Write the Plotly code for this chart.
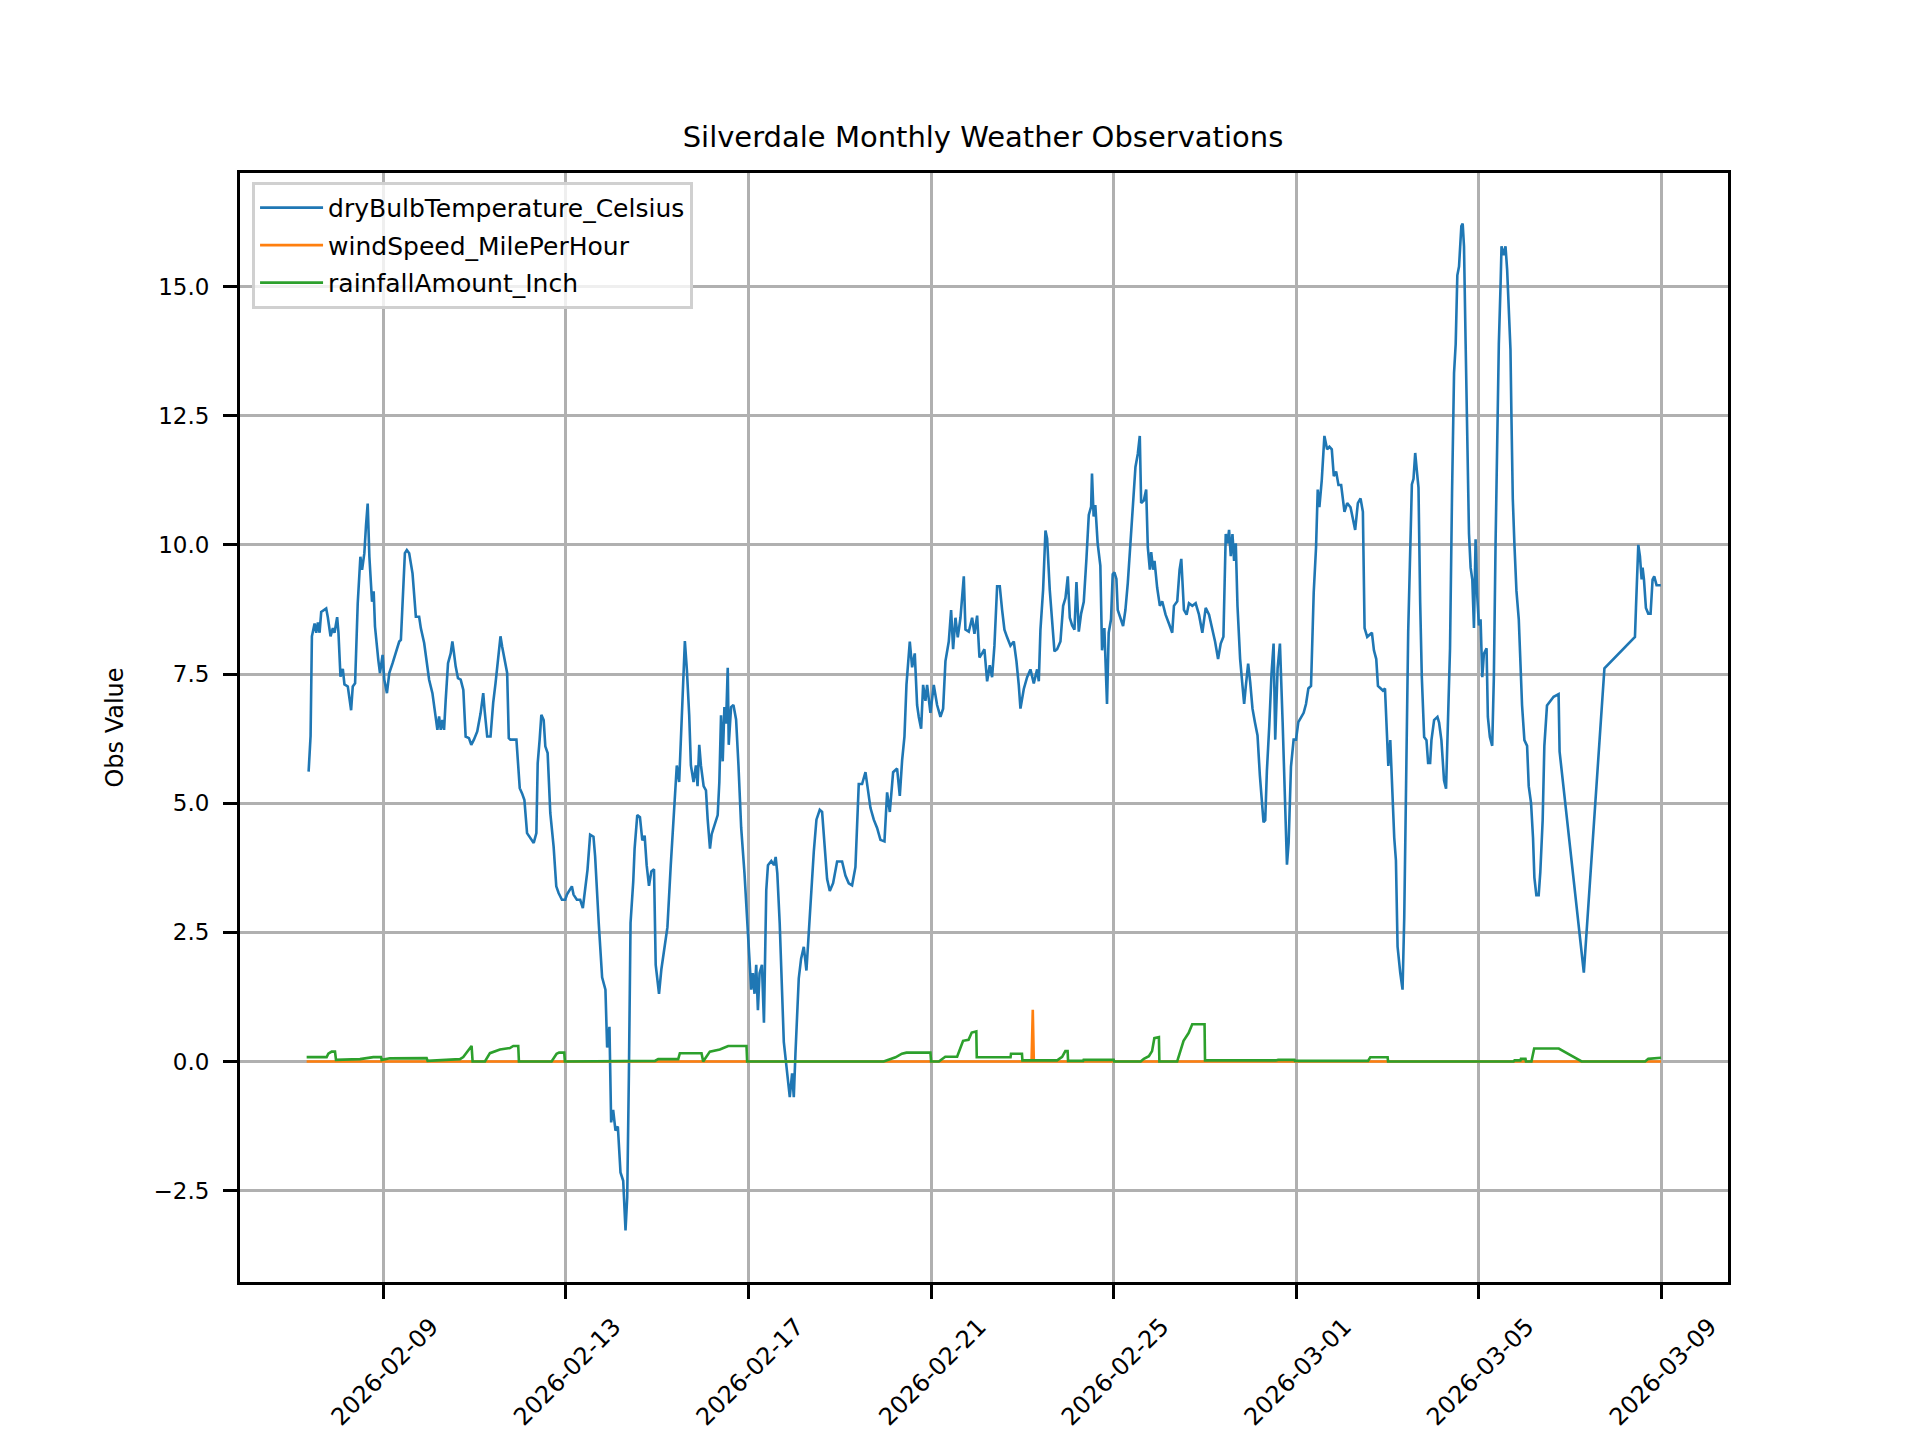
import pandas as pd
import plotly.graph_objects as go

# observation times are given as days after 2026-02-09 00:00
base_date = "2026-02-09"

temp_days = [
    -1.636, -1.593, -1.564, -1.505, -1.469, -1.433, -1.396, -1.36, -1.251, -1.215,
    -1.156, -1.105, -1.069, -1.011, -0.982, -0.938, -0.887, -0.851, -0.778, -0.705,
    -0.669, -0.618, -0.56, -0.502, -0.465, -0.415, -0.378, -0.342, -0.305, -0.269,
    -0.247, -0.211, -0.182, -0.109, -0.073, -0.015, 0.022, 0.08, 0.131, 0.204,
    0.276, 0.349, 0.385, 0.422, 0.473, 0.516, 0.567, 0.64, 0.713, 0.785,
    0.822, 0.895, 0.953, 1.004, 1.076, 1.127, 1.185, 1.222, 1.258, 1.295,
    1.331, 1.367, 1.418, 1.476, 1.513, 1.549, 1.585, 1.636, 1.695, 1.753,
    1.804, 1.876, 1.927, 1.985, 2.058, 2.131, 2.189, 2.218, 2.276, 2.349,
    2.407, 2.458, 2.509, 2.567, 2.604, 2.655, 2.713, 2.749, 2.785, 2.916,
    2.989, 3.04, 3.091, 3.149, 3.222, 3.295, 3.353, 3.382, 3.425, 3.462,
    3.513, 3.549, 3.6, 3.658, 3.731, 3.789, 3.84, 3.913, 3.985, 4.022,
    4.131, 4.167, 4.24, 4.313, 4.371, 4.422, 4.473, 4.531, 4.604, 4.64,
    4.676, 4.719, 4.793, 4.866, 4.903, 4.954, 4.991, 5.035, 5.086, 5.138,
    5.196, 5.255, 5.306, 5.343, 5.379, 5.416, 5.475, 5.505, 5.563, 5.622,
    5.674, 5.725, 5.769, 5.82, 5.872, 5.93, 5.967, 6.04, 6.092, 6.15,
    6.224, 6.297, 6.371, 6.429, 6.481, 6.554, 6.606, 6.65, 6.701, 6.738,
    6.796, 6.848, 6.884, 6.921, 6.958, 7.017, 7.068, 7.105, 7.156, 7.193,
    7.251, 7.325, 7.361, 7.398, 7.435, 7.472, 7.508, 7.545, 7.567, 7.618,
    7.67, 7.728, 7.78, 7.839, 7.912, 7.971, 8.022, 8.059, 8.095, 8.132,
    8.169, 8.206, 8.242, 8.294, 8.338, 8.389, 8.426, 8.499, 8.558, 8.595,
    8.631, 8.683, 8.773, 8.846, 8.904, 8.955, 8.992, 9.028, 9.065, 9.101,
    9.152, 9.211, 9.269, 9.32, 9.371, 9.43, 9.488, 9.561, 9.612, 9.663,
    9.722, 9.78, 9.853, 9.941, 10.05, 10.123, 10.196, 10.269, 10.342, 10.415,
    10.488, 10.562, 10.613, 10.671, 10.744, 10.817, 10.89, 10.978, 11.036, 11.095,
    11.168, 11.255, 11.314, 11.365, 11.416, 11.46, 11.533, 11.584, 11.642, 11.693,
    11.73, 11.781, 11.825, 11.876, 11.912, 11.985, 12.058, 12.131, 12.204, 12.263,
    12.314, 12.387, 12.438, 12.482, 12.533, 12.584, 12.643, 12.716, 12.752, 12.825,
    12.898, 12.949, 13.008, 13.059, 13.117, 13.168, 13.227, 13.285, 13.336, 13.387,
    13.446, 13.504, 13.555, 13.606, 13.665, 13.738, 13.811, 13.869, 13.92, 13.957,
    14.03, 14.103, 14.176, 14.249, 14.322, 14.359, 14.395, 14.453, 14.505, 14.541,
    14.599, 14.651, 14.702, 14.76, 14.833, 14.892, 14.943, 14.994, 15.038, 15.089,
    15.14, 15.184, 15.235, 15.286, 15.344, 15.403, 15.454, 15.505, 15.524, 15.56,
    15.597, 15.648, 15.707, 15.744, 15.795, 15.853, 15.89, 15.941, 15.978, 16.015,
    16.059, 16.088, 16.147, 16.205, 16.256, 16.308, 16.366, 16.425, 16.476, 16.527,
    16.571, 16.601, 16.659, 16.711, 16.747, 16.791, 16.821, 16.864, 16.894, 16.952,
    17.011, 17.062, 17.136, 17.209, 17.282, 17.319, 17.392, 17.443, 17.48, 17.538,
    17.597, 17.648, 17.722, 17.795, 17.868, 17.941, 18.015, 18.088, 18.161, 18.22,
    18.286, 18.344, 18.403, 18.454, 18.491, 18.527, 18.564, 18.601, 18.637, 18.674,
    18.711, 18.769, 18.821, 18.857, 18.894, 18.945, 18.989, 19.04, 19.092, 19.15,
    19.201, 19.238, 19.282, 19.319, 19.355, 19.407, 19.458, 19.502, 19.538, 19.59,
    19.641, 19.7, 19.751, 19.795, 19.832, 19.883, 19.941, 19.993, 20.044, 20.103,
    20.161, 20.212, 20.264, 20.322, 20.381, 20.432, 20.469, 20.505, 20.557, 20.615,
    20.674, 20.725, 20.777, 20.821, 20.872, 20.923, 20.982, 21.055, 21.114, 21.187,
    21.238, 21.289, 21.348, 21.407, 21.458, 21.495, 21.553, 21.604, 21.656, 21.7,
    21.751, 21.788, 21.846, 21.897, 21.942, 21.985, 22.015, 22.058, 22.109, 22.145,
    22.182, 22.218, 22.276, 22.327, 22.364, 22.4, 22.451, 22.495, 22.531, 22.567,
    22.604, 22.64, 22.676, 22.713, 22.749, 22.8, 22.851, 22.887, 22.931, 22.96,
    23.018, 23.091, 23.127, 23.178, 23.236, 23.28, 23.324, 23.367, 23.411, 23.455,
    23.491, 23.527, 23.564, 23.585, 23.615, 23.644, 23.673, 23.709, 23.745, 23.782,
    23.818, 23.855, 23.891, 23.927, 23.964, 24.0, 24.036, 24.073, 24.109, 24.167,
    24.196, 24.24, 24.291, 24.327, 24.364, 24.4, 24.436, 24.473, 24.495, 24.545,
    24.582, 24.618, 24.655, 24.691, 24.713, 24.742, 24.778, 24.822, 24.873, 24.909,
    24.945, 24.996, 25.055, 25.091, 25.142, 25.185, 25.215, 25.258, 25.309, 25.345,
    25.396, 25.433, 25.491, 25.636, 25.745, 25.767, 26.298, 26.749, 27.418, 27.44,
    27.469, 27.491, 27.527, 27.564, 27.585, 27.615, 27.658, 27.709, 27.76, 27.804,
    27.84, 27.891, 27.985,
]
temp_c = [
    5.61, 6.3, 8.23, 8.48, 8.3, 8.5, 8.3, 8.7, 8.77, 8.6,
    8.23, 8.39, 8.3, 8.6, 8.3, 7.45, 7.6, 7.3, 7.26, 6.8,
    7.26, 7.32, 8.87, 9.77, 9.52, 9.84, 10.39, 10.8, 9.77, 9.19,
    8.9, 9.1, 8.42, 7.77, 7.52, 7.87, 7.39, 7.13, 7.52, 7.71,
    7.9, 8.13, 8.16, 8.94, 9.84, 9.9, 9.84, 9.45, 8.61, 8.61,
    8.39, 8.1, 7.77, 7.39, 7.13, 6.74, 6.42, 6.68, 6.42, 6.61,
    6.42, 7.0, 7.71, 7.9, 8.13, 7.9, 7.65, 7.42, 7.39, 7.19,
    6.29, 6.26, 6.13, 6.23, 6.39, 6.74, 7.13, 6.81, 6.29, 6.29,
    6.94, 7.32, 7.77, 8.23, 8.03, 7.77, 7.52, 6.26, 6.23, 6.23,
    5.29, 5.19, 5.06, 4.42, 4.32, 4.23, 4.42, 5.77, 6.23, 6.71,
    6.61, 6.1, 5.97, 4.81, 4.16, 3.39, 3.26, 3.13, 3.13, 3.23,
    3.39, 3.23, 3.13, 3.13, 2.97, 3.39, 3.71, 4.39, 4.35, 3.97,
    3.26, 2.68, 1.63, 1.39, 0.27, 0.67, -1.18, -0.94, -1.34, -1.26,
    -2.15, -2.31, -3.27, -2.63, -0.3, 2.68, 3.48, 4.12, 4.77, 4.73,
    4.28, 4.37, 3.8, 3.4, 3.68, 3.72, 1.87, 1.31, 1.79, 2.19,
    2.6, 3.8, 4.85, 5.73, 5.41, 6.94, 8.14, 7.58, 6.7, 5.73,
    5.41, 5.73, 5.33, 6.13, 5.73, 5.33, 5.25, 4.69, 4.12, 4.4,
    4.57, 4.77, 5.41, 6.7, 5.81, 6.86, 6.54, 7.62, 6.13, 6.86,
    6.9, 6.62, 5.73, 4.53, 3.64, 2.76, 2.11, 1.39, 1.71, 1.31,
    1.87, 0.99, 1.71, 1.87, 0.75, 3.32, 3.8, 3.88, 3.8, 3.96,
    3.64, 2.68, 0.38, -0.23, -0.69, -0.23, -0.69, 0.15, 0.84, 1.61,
    1.99, 2.22, 1.76, 2.53, 3.22, 4.06, 4.68, 4.87, 4.83, 4.22,
    3.53, 3.3, 3.45, 3.87, 3.87, 3.6, 3.45, 3.41, 3.76, 5.37,
    5.37, 5.6, 5.29, 4.91, 4.68, 4.52, 4.29, 4.26, 5.21, 4.83,
    5.6, 5.67, 5.14, 5.83, 6.29, 7.29, 8.13, 7.63, 7.9, 6.9,
    6.67, 6.44, 7.29, 6.98, 7.29, 6.75, 7.29, 6.9, 6.67, 6.83,
    7.75, 8.13, 8.74, 7.98, 8.59, 8.21, 8.59, 9.39, 8.36, 8.32,
    8.59, 8.28, 8.63, 7.82, 7.9, 7.98, 7.36, 7.67, 7.44, 8.05,
    9.2, 9.2, 8.74, 8.36, 8.21, 8.05, 8.13, 7.75, 7.29, 6.83,
    7.21, 7.44, 7.59, 7.32, 7.59, 7.36, 8.36, 9.13, 10.28, 10.12,
    9.13, 8.51, 7.94, 7.98, 8.13, 8.82, 8.97, 9.39, 8.59, 8.44,
    8.36, 9.28, 8.32, 8.67, 8.9, 9.74, 10.58, 10.74, 11.38, 10.55,
    10.77, 10.03, 9.6, 7.96, 8.39, 6.92, 8.3, 8.56, 9.43, 9.47,
    9.34, 8.74, 8.56, 8.43, 8.74, 9.26, 10.03, 10.73, 11.51, 11.76,
    12.11, 10.81, 10.86, 11.07, 9.95, 9.52, 9.86, 9.52, 9.69, 9.17,
    8.82, 8.91, 8.65, 8.48, 8.3, 8.82, 8.91, 9.52, 9.73, 8.74,
    8.65, 8.87, 8.82, 8.87, 8.65, 8.3, 8.78, 8.65, 8.39, 8.13,
    7.79, 8.09, 8.22, 10.21, 10.03, 10.29, 9.78, 10.21, 9.69, 10.03,
    8.82, 7.79, 7.27, 6.92, 7.27, 7.7, 7.35, 6.83, 6.57, 6.31,
    5.54, 5.02, 4.63, 4.67, 5.62, 6.49, 7.53, 8.09, 6.23, 7.61,
    8.09, 6.57, 5.19, 3.81, 4.24, 5.71, 6.23, 6.23, 6.57, 6.66,
    6.75, 6.92, 7.22, 7.27, 9.08, 9.95, 11.07, 10.73, 11.25, 12.11,
    11.85, 11.9, 11.85, 11.33, 11.42, 11.16, 11.16, 10.64, 10.81, 10.73,
    10.47, 10.29, 10.81, 10.9, 10.64, 8.39, 8.22, 8.26, 8.3, 7.96,
    7.79, 7.27, 7.22, 7.18, 7.22, 6.22, 5.72, 6.22, 4.89, 4.33,
    3.89, 2.22, 1.72, 1.39, 2.78, 5.56, 8.33, 9.89, 11.17, 11.28,
    11.78, 11.44, 11.11, 8.89, 7.44, 6.28, 6.22, 5.78, 5.78, 6.22,
    6.61, 6.67, 6.56, 6.22, 5.44, 5.28, 6.67, 8.0, 11.0, 13.33,
    13.89, 15.22, 15.39, 15.78, 16.17, 16.22, 15.78, 13.89, 11.67, 10.22,
    9.56, 9.33, 8.39, 10.11, 9.0, 8.44, 8.56, 7.44, 7.89, 8.0,
    6.67, 6.28, 6.11, 7.44, 10.0, 12.22, 13.89, 15.0, 15.78, 15.61,
    15.78, 15.33, 14.44, 13.78, 12.44, 10.89, 10.0, 9.11, 8.56, 7.78,
    6.89, 6.22, 6.11, 5.33, 5.0, 4.33, 3.56, 3.22, 3.22, 3.67,
    4.67, 6.11, 6.89, 7.06, 7.11, 6.0, 1.72, 7.61, 8.22, 8.78,
    9.56, 10.0, 9.78, 9.33, 9.56, 9.33, 8.78, 8.67, 8.67, 9.33,
    9.39, 9.22, 9.22,
]

wind_days = [-1.679, 14.20, 14.227, 14.25, 27.99]
wind_mph = [0.0, 0.0, 1.0, 0.0, 0.0]

rain_days = [
    -1.679, -1.241, -1.204, -1.131, -1.058, -1.036, -0.511, -0.219, -0.051, -0.036,
    0.146, 0.949, 0.971, 1.679, 1.752, 1.934, 1.956, 2.226, 2.336, 2.555,
    2.774, 2.847, 2.956, 2.971, 3.686, 3.796, 3.85, 3.964, 3.978, 5.95,
    6.022, 6.46, 6.496, 6.971, 7.007, 7.153, 7.372, 7.555, 7.956, 7.97,
    10.96, 11.22, 11.36, 11.46, 11.985, 12.0, 12.17, 12.31, 12.57, 12.70,
    12.82, 12.89, 12.99, 13.0, 13.74, 13.75, 13.99, 14.0, 14.76, 14.87,
    14.94, 14.99, 15.0, 15.33, 15.34, 16.0, 16.01, 16.59, 16.66, 16.77,
    16.84, 16.89, 16.99, 17.0, 17.39, 17.46, 17.53, 17.64, 17.72, 17.99,
    18.0, 19.55, 19.6, 19.96, 19.97, 21.57, 21.62, 22.0, 22.01, 24.76,
    24.78, 24.91, 24.92, 25.02, 25.03, 25.15, 25.21, 25.75, 26.25, 27.64,
    27.71, 27.99,
]
rain_in = [
    0.084, 0.084, 0.15, 0.19, 0.19, 0.03, 0.045, 0.084, 0.084, 0.03,
    0.06, 0.065, 0.01, 0.045, 0.084, 0.3, 0.0, 0.0, 0.16, 0.23,
    0.26, 0.3, 0.3, 0.0, 0.0, 0.15, 0.17, 0.17, 0.0, 0.01,
    0.045, 0.045, 0.16, 0.16, 0.0, 0.19, 0.23, 0.3, 0.3, 0.0,
    0.0, 0.08, 0.15, 0.17, 0.17, 0.0, 0.0, 0.09, 0.09, 0.4,
    0.42, 0.56, 0.58, 0.08, 0.08, 0.15, 0.15, 0.02, 0.02, 0.09,
    0.2, 0.2, 0.01, 0.01, 0.03, 0.03, 0.0, 0.0, 0.05, 0.1,
    0.2, 0.45, 0.47, 0.0, 0.0, 0.2, 0.4, 0.55, 0.72, 0.72,
    0.02, 0.02, 0.03, 0.03, 0.01, 0.01, 0.08, 0.08, 0.0, 0.0,
    0.02, 0.02, 0.05, 0.05, 0.0, 0.0, 0.25, 0.25, 0.0, 0.0,
    0.05, 0.07,
]

tick_labels = ["2026-02-09", "2026-02-13", "2026-02-17", "2026-02-21",
               "2026-02-25", "2026-03-01", "2026-03-05", "2026-03-09"]


def to_time(days):
    return pd.Timestamp(base_date) + pd.to_timedelta(days, unit="D")


fig = go.Figure()
fig.add_trace(go.Scatter(x=to_time(temp_days), y=temp_c, mode="lines",
                         name="dryBulbTemperature_Celsius", legendgroup="t",
                         line=dict(color="#1f77b4", width=2.6)))
fig.add_trace(go.Scatter(x=to_time(wind_days), y=wind_mph, mode="lines",
                         name="windSpeed_MilePerHour", legendgroup="w",
                         line=dict(color="#ff7f0e", width=2.6)))
fig.add_trace(go.Scatter(x=to_time(rain_days), y=rain_in, mode="lines",
                         name="rainfallAmount_Inch", legendgroup="r",
                         line=dict(color="#2ca02c", width=2.6)))

x_lo = pd.Timestamp(base_date) + pd.Timedelta(days=-3.139)
x_hi = pd.Timestamp(base_date) + pd.Timedelta(days=29.456)

# the page puts the plot 8px in from the corner, margins make up for that
fig.update_layout(
    width=1920,
    height=1440,
    margin=dict(l=232, r=200, t=165, b=166),
    paper_bgcolor="white",
    plot_bgcolor="white",
    font=dict(family="DejaVu Sans", size=23, color="black"),
    title=dict(text="Silverdale Monthly Weather Observations",
               x=0.5078, xanchor="center", y=0.9104, yanchor="middle",
               font=dict(size=29)),
    showlegend=True,
    legend=dict(x=0.0081, y=0.992, xanchor="left", yanchor="top",
                bgcolor="rgba(255,255,255,0.8)", bordercolor="#d0d0d0",
                borderwidth=3, font=dict(size=25), itemwidth=63,
                tracegroupgap=2),
    xaxis=dict(
        range=[x_lo, x_hi],
        tickvals=pd.to_datetime(tick_labels),
        ticktext=tick_labels,
        tickangle=-45,
        ticklabelshift=48,
        ticklabelstandoff=4,
        tickfont=dict(size=24),
        ticks="outside", ticklen=14, tickwidth=3, tickcolor="black",
        showgrid=True, gridcolor="#b0b0b0", gridwidth=3,
        showline=True, linecolor="black", linewidth=3, mirror=True,
        zeroline=False,
    ),
    yaxis=dict(
        range=[-4.27, 17.2],
        tick0=0, dtick=2.5, tickformat=".1f",
        ticklabelstandoff=9,
        ticks="outside", ticklen=14, tickwidth=3, tickcolor="black",
        showgrid=True, gridcolor="#b0b0b0", gridwidth=3,
        showline=True, linecolor="black", linewidth=3, mirror=True,
        zeroline=False,
        title=dict(text="Obs Value", standoff=24, font=dict(size=24)),
    ),
)

fig.write_html("out.html")
